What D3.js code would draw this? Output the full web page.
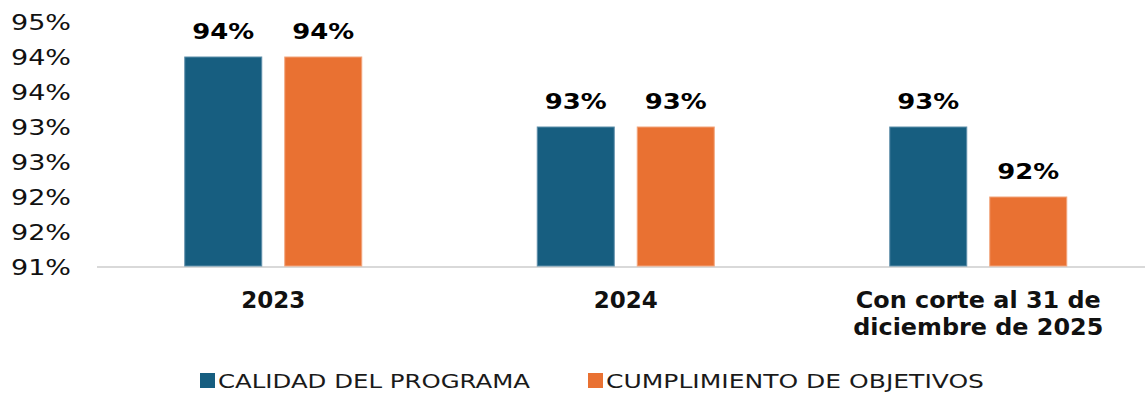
<!DOCTYPE html>
<html>
<head>
<meta charset="utf-8">
<script src="https://cdn.jsdelivr.net/npm/d3@7"></script>
<style>
  html, body { margin: 0; padding: 0; background: #fff; }
  svg { display: block; }
  text { font-family: "DejaVu Sans", Verdana, sans-serif; }
</style>
</head>
<body>
<svg id="chart" width="1145" height="394"></svg>
<script>
// Categories and series
const categories = ["2023", "2024", "Con corte al 31 de\ndiciembre de 2025"];
const seriesNames = ["CALIDAD DEL PROGRAMA", "CUMPLIMIENTO DE OBJETIVOS"];
const calidad = [0.94, 0.93, 0.93];
const cumplimiento = [0.94, 0.93, 0.92];
const yTicks = [0.91, 0.915, 0.92, 0.925, 0.93, 0.935, 0.94, 0.945];
const colors = ["#175E80", "#E97132"];
const strokes = ["#5F8FAA", "#F2A57C"];

const svg = d3.select("#chart");
const W = 1145, H = 394;

const values = [calidad, cumplimiento];

const x0 = d3.scaleBand().domain(categories).range([97, 1154.5]).padding(0);
const x1 = d3.scaleBand().domain(seriesNames).range([0, 178]).paddingInner(0.22).paddingOuter(0);
const y = d3.scaleLinear().domain([0.91, 0.945]).range([267, 22]);

const fmt = d3.format(".0%");

// Y axis labels (no line, no ticks)
const yAxis = d3.axisLeft(y).tickValues(yTicks).tickFormat(fmt).tickSize(0).tickPadding(0);
const gy = svg.append("g").attr("transform", "translate(71,0)").call(yAxis);
gy.select(".domain").remove();
gy.selectAll("text")
  .attr("font-family", "DejaVu Sans, Verdana, sans-serif")
  .attr("font-size", 21)
  .attr("fill", "#111")
  .attr("dy", "0.36em")
  .attr("textLength", 60)
  .attr("lengthAdjust", "spacingAndGlyphs");

// Baseline
svg.append("line")
  .attr("x1", 97).attr("x2", W)
  .attr("y1", y(0.91)).attr("y2", y(0.91))
  .attr("stroke", "#D9D9D9").attr("stroke-width", 2);

// Bars
const groups = svg.append("g").selectAll("g")
  .data(categories)
  .join("g")
  .attr("transform", d => `translate(${x0(d) + x0.bandwidth() / 2 - 89},0)`);

groups.each(function(cat, ci) {
  const g = d3.select(this);
  seriesNames.forEach((s, si) => {
    const v = values[si][ci];
    g.append("rect")
      .attr("x", x1(s) + 0.5)
      .attr("y", y(v))
      .attr("width", x1.bandwidth() - 1)
      .attr("height", y(0.91) - y(v) - 1)
      .attr("fill", colors[si])
      .attr("stroke", strokes[si])
      .attr("stroke-width", 1);
    g.append("text")
      .attr("x", x1(s) + x1.bandwidth() / 2)
      .attr("y", y(v) - 18)
      .attr("text-anchor", "middle")
      .attr("font-size", 22)
      .attr("font-weight", "bold")
      .attr("fill", "#000")
      .attr("textLength", 62)
      .attr("lengthAdjust", "spacingAndGlyphs")
      .text(fmt(v));
  });
});

// Category labels
const lineWidths = { "Con corte al 31 de": 245, "diciembre de 2025": 250 };
const catG = svg.append("g");
categories.forEach(c => {
  const lines = c.split("\n");
  const cx = x0(c) + x0.bandwidth() / 2;
  lines.forEach((ln, i) => {
    const t = catG.append("text")
      .attr("x", cx)
      .attr("y", 308 + i * 27)
      .attr("text-anchor", "middle")
      .attr("font-size", 23)
      .attr("font-weight", "bold")
      .attr("fill", "#111")
      .text(ln);
    if (lineWidths[ln]) {
      t.attr("textLength", lineWidths[ln]).attr("lengthAdjust", "spacingAndGlyphs");
    }
  });
});

// Legend
const legendX = [200, 588];
const legendW = [312, 378];
const lg = svg.append("g");
seriesNames.forEach((s, i) => {
  lg.append("rect")
    .attr("x", legendX[i]).attr("y", 373)
    .attr("width", 15).attr("height", 15)
    .attr("fill", colors[i]);
  lg.append("text")
    .attr("x", legendX[i] + 18)
    .attr("y", 388)
    .attr("font-size", 20)
    .attr("fill", "#1a1a1a")
    .attr("textLength", legendW[i])
    .attr("lengthAdjust", "spacingAndGlyphs")
    .text(s);
});
</script>
</body>
</html>
